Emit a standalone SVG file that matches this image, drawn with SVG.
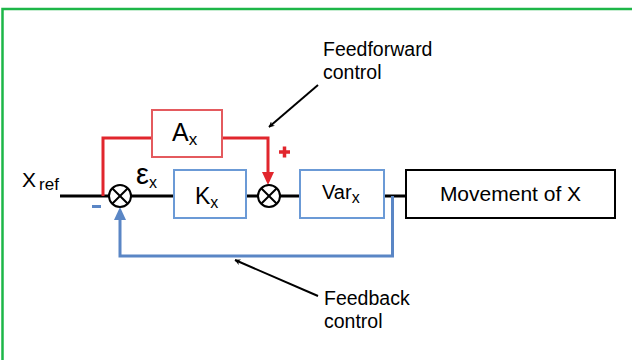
<svg xmlns="http://www.w3.org/2000/svg" width="632" height="360" viewBox="0 0 632 360">
<style>
text{font-family:"Liberation Sans",Arial,sans-serif;fill:#000}
.blk{fill:#fff;stroke:#000;stroke-width:2}
.bb{fill:#fff;stroke:#6b9ad6;stroke-width:2}
.rb{fill:#fff;stroke:#e45a5e;stroke-width:2}
.wire{fill:none;stroke:#000;stroke-width:3}
.red{fill:none;stroke:#e1262d;stroke-width:3}
.blue{fill:none;stroke:#5a86c5;stroke-width:3}
.ann{fill:none;stroke:#000;stroke-width:2}
.lbl{font-size:19.5px}
</style>
<defs>
<marker id="ah" viewBox="0 0 10 10" refX="9" refY="5" markerWidth="6" markerHeight="6" orient="auto" markerUnits="userSpaceOnUse">
<path d="M0,0 L10,5 L0,10 L3,5 z" fill="#000"/>
</marker>
</defs>
<rect width="632" height="360" fill="#fff"/>
<path d="M2.5,360 V9 H632" fill="none" stroke="#1db648" stroke-width="2.5"/>
<g id="connectors">
<path class="wire" d="M60,196 H109 M131,196 H174 M246,196 H258 M280,196 H300 M384,196 H406"/>
<path class="red" d="M103,196 V138 H152 M222,138 H268 V173"/>
<path d="M262,172 L274,172 L268,185 z" fill="#e1262d"/>
<path class="blue" d="M392.5,196 V256 H120 V219"/>
<path d="M114,220 L126,220 L120,207 z" fill="#5a86c5"/>
<line class="ann" x1="318" y1="85" x2="269" y2="127" marker-end="url(#ah)"/>
<line class="ann" x1="318" y1="296" x2="235" y2="260" marker-end="url(#ah)"/>
</g>
<g id="xref"><text x="22" y="187" font-size="21">X<tspan font-size="17" dy="3" dx="3">ref</tspan></text></g>
<g id="sum1">
<circle cx="120" cy="196" r="11" fill="#fff" stroke="#000" stroke-width="2"/>
<path d="M112.2,188.2 L127.8,203.8 M127.8,188.2 L112.2,203.8" stroke="#000" stroke-width="2"/>
</g>
<g id="minus"><rect x="92" y="205" width="9" height="3" fill="#5a86c5"/></g>
<g id="epsilon"><text x="136" y="184" font-size="29">ε<tspan font-size="16" dy="4">x</tspan></text></g>
<g id="Ax">
<rect class="rb" x="152" y="110" width="70" height="47"/>
<text x="172" y="141" font-size="25">A<tspan font-size="17" dy="4">x</tspan></text>
</g>
<g id="plus"><path d="M279,152 H290 M284.5,146.5 V157.5" stroke="#e1262d" stroke-width="3.5"/></g>
<g id="Kx">
<rect class="bb" x="174" y="170" width="72" height="48"/>
<text x="195" y="204" font-size="23">K<tspan font-size="16" dy="4">x</tspan></text>
</g>
<g id="sum2">
<circle cx="269" cy="196" r="11" fill="#fff" stroke="#000" stroke-width="2"/>
<path d="M261.2,188.2 L276.8,203.8 M276.8,188.2 L261.2,203.8" stroke="#000" stroke-width="2"/>
</g>
<g id="Varx">
<rect class="bb" x="300" y="170" width="84" height="48"/>
<text x="322" y="199" font-size="20">Var<tspan font-size="16" dy="4">x</tspan></text>
</g>
<g id="movement">
<rect class="blk" x="406" y="170" width="209" height="48"/>
<text x="510.5" y="201" font-size="21" text-anchor="middle">Movement of X</text>
</g>
<g id="feedforward-label">
<text class="lbl" x="323" y="56">Feedforward</text>
<text class="lbl" x="323" y="79">control</text>
</g>
<g id="feedback-label">
<text class="lbl" x="324" y="305">Feedback</text>
<text class="lbl" x="324" y="328">control</text>
</g>
</svg>
